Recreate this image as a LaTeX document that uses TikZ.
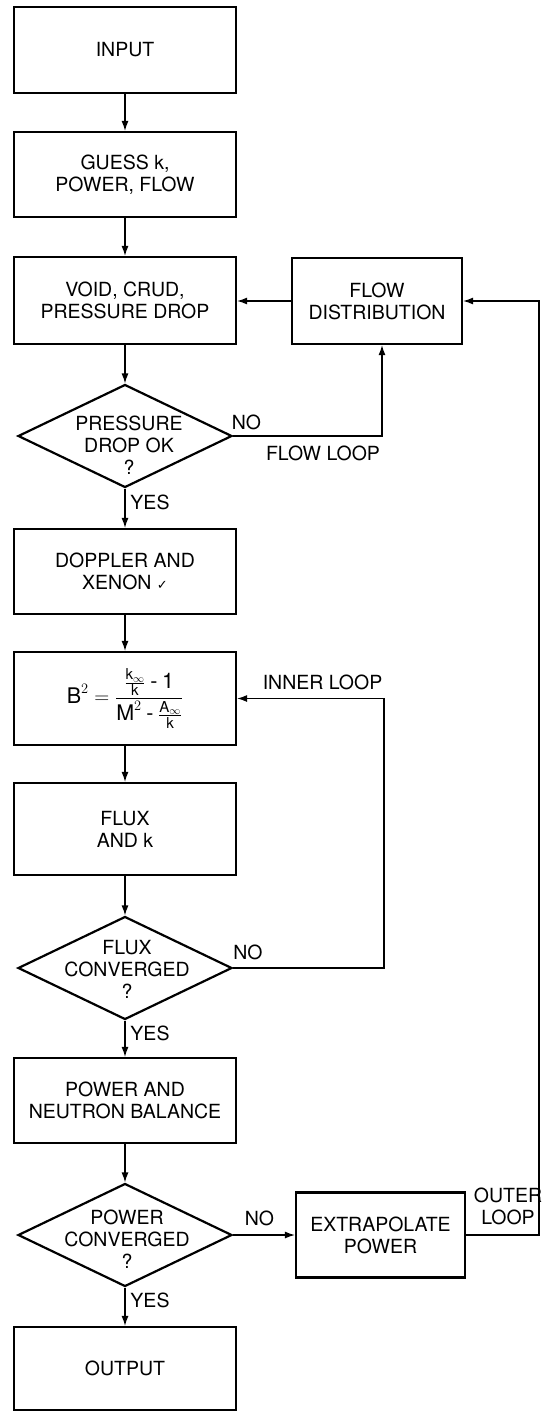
\documentclass[tikz,border=0pt]{standalone}
\usepackage{amsmath}
\usepackage{fontspec}
\setmainfont{TeX Gyre Heros}
\newfontfamily\dejavu{DejaVu Sans}
\usetikzlibrary{arrows.meta,shapes.geometric}
\begin{document}
\begin{tikzpicture}[x=1pt,y=-1pt,
  every node/.style={font=\fontsize{19.5}{22}\selectfont},
  box/.style={draw, line width=2.2pt, minimum width=222pt, inner sep=0pt, align=center},
  dec/.style={draw, diamond, line width=2.2pt, minimum width=214pt, minimum height=103pt, inner sep=0pt},
  dtext/.style={align=center, inner sep=0pt},
  lbl/.style={inner sep=0pt, align=center},
  arr/.style={line width=1.2pt, -{Latex[length=10pt,width=7pt]}},
  ln/.style={line width=1.2pt}]
\useasboundingbox (0,0) rectangle (542,1411);

% main column
\node[box, minimum height=86pt] (input) at (125,50) {INPUT};
\node[box, minimum height=85pt] (guess) at (125,174.5) {GUESS k,\\POWER, FLOW};
\node[box, minimum height=87pt] (void) at (125,300.5) {VOID, CRUD,\\PRESSURE DROP};
\node[box, minimum width=170pt, minimum height=86pt] (flowd) at (377,301) {FLOW\\DISTRIBUTION};
\node[dec] (d1) at (125,436) {};
\node[dtext] (d1t) at (129,445) {PRESSURE\\DROP OK\\?};
\node[box, minimum height=85pt] (dop) at (125,571.5) {DOPPLER AND\\XENON {\dejavu\fontsize{13}{13}\selectfont ✓}};
\node[box, minimum height=93pt, font=\fontsize{21.5}{24}\selectfont] (bsq) at (125,698.5)
  {$\text{B}^{2} = \dfrac{\frac{\text{k}_{\infty}}{\text{k}} \mathbin{\text{-}} \text{1}}{\text{M}^{2} \mathbin{\text{-}} \frac{\text{A}_{\infty}}{\text{k}}}$};
\node[box, minimum height=92pt] (flux) at (125,829) {FLUX\\AND k};
\node[dec] (d2) at (125,968) {};
\node[dtext] (d2t) at (127,969) {FLUX\\CONVERGED\\?};
\node[box, minimum height=85pt] (pnb) at (125,1100.5) {POWER AND\\NEUTRON BALANCE};
\node[dec] (d3) at (125,1235) {};
\node[dtext] (d3t) at (127,1239) {POWER\\CONVERGED\\?};
\node[box, minimum width=169pt, minimum height=85pt] (extra) at (380.5,1235) {EXTRAPOLATE\\POWER};
\node[box, minimum height=83pt] (output) at (125,1368.5) {OUTPUT};

% connectors
\draw[arr] (input) -- (guess);
\draw[arr] (guess) -- (void);
\draw[arr] (flowd.west) -- (flowd.west -| void.east);
\draw[arr] (void) -- (d1);
\coordinate (fl) at (382,436);
\draw[arr] (d1.east) -- (fl) -- (fl |- flowd.south);
\draw[arr] (d1) -- (dop);
\draw[arr] (dop) -- (bsq);
\draw[arr] (bsq) -- (flux);
\draw[arr] (flux) -- (d2);
\coordinate (il) at (384,968);
\draw[arr] (d2.east) -- (il) |- (bsq.east);
\draw[arr] (d2) -- (pnb);
\draw[arr] (pnb) -- (d3);
\draw[arr] (d3) -- (extra);
\coordinate (ol) at (539,1235);
\draw[arr] (extra.east) -- (ol) |- (flowd.east);
\draw[arr] (d3) -- (output);

% labels
\node[lbl] (no1) at (246.5,422) {NO};
\node[lbl] (floop) at (323,453) {FLOW LOOP};
\node[lbl] (yes1) at (150,502) {YES};
\node[lbl] (iloop) at (322.5,682) {INNER LOOP};
\node[lbl] (no2) at (248,952) {NO};
\node[lbl] (yes2) at (150,1033) {YES};
\node[lbl] (no3) at (259.5,1218) {NO};
\node[lbl] (yes3) at (150,1300) {YES};
\node[lbl] (oloop) at (508,1206) {OUTER\\LOOP};
\end{tikzpicture}
\end{document}
